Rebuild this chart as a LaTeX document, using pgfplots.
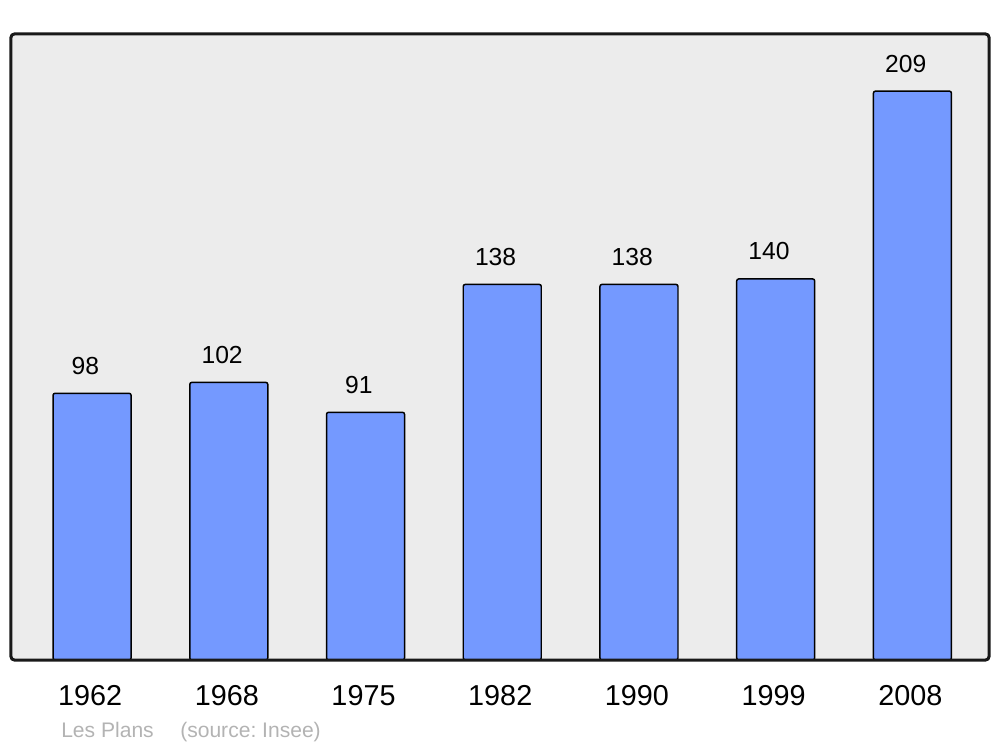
\documentclass[border=0pt]{standalone}
\usepackage{fontspec}
\setmainfont{Liberation Sans}
\usepackage{pgfplots}
\pgfplotsset{compat=1.18}
\definecolor{barblue}{HTML}{7499FF}
\definecolor{bggray}{HTML}{ECECEC}
\definecolor{srcgray}{HTML}{B3B3B3}
\begin{document}
\begin{tikzpicture}
\useasboundingbox (0,0) rectangle (750pt,560.25pt);
\begin{axis}[
  at={(8.25pt,65.25pt)}, anchor=south west,
  scale only axis, width=733.5pt, height=469.5pt,
  xmin=-0.593, xmax=6.56, ymin=0, ymax=230,
  axis line style={draw=none},
  axis background/.style={fill=bggray},
  ytick=\empty,
  xtick=data,
  xticklabels={1962,1968,1975,1982,1990,1999,2008},
  major tick length=0pt,
  xticklabel style={anchor=base, yshift=-33.75pt, xshift=-1.5pt, font=\fontsize{21.6}{24}\selectfont},
  /pgf/number format/assume math mode=true,
  ybar, bar width=58.5pt,
  nodes near coords,
  nodes near coords style={anchor=base, yshift=14.25pt, xshift=-5pt, font=\fontsize{18.5}{21}\selectfont, black},
  clip=false,
]
\addplot[fill=barblue, draw=black, line width=1.1pt, rounded corners=1.5pt] coordinates {
 (0,98) (1,102) (2,91) (3,138) (4,138) (5,140) (6,209)};
\draw[line width=2.25pt, rounded corners=2.5pt, black!90] (rel axis cs:0,0) rectangle (rel axis cs:1,1);
\end{axis}
\node[anchor=base west, text=srcgray, font=\fontsize{15.8}{18}\selectfont, inner sep=0pt] at (45.75pt,7pt) {Les Plans};
\node[anchor=base west, text=srcgray, font=\fontsize{15.8}{18}\selectfont, inner sep=0pt] at (135pt,7pt) {(source:\ Insee)};
\end{tikzpicture}
\end{document}
